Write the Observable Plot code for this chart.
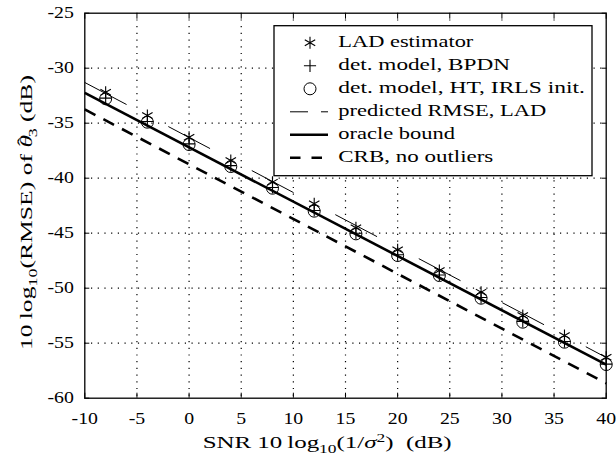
<!DOCTYPE html>
<html>
<head>
<meta charset="utf-8">
<script src="https://cdn.jsdelivr.net/npm/d3@7"></script>
<script src="https://cdn.jsdelivr.net/npm/@observablehq/plot@0.6"></script>
<style>
  html, body { margin: 0; padding: 0; background: white; }
  svg { display: block; }
</style>
</head>
<body>
<script>
// ---- data ----
const snr = [-8, -4, 0, 4, 8, 12, 16, 20, 24, 28, 32, 36, 40];
const ladRmse  = [-32.18, -34.30, -36.27, -38.39, -40.36, -42.33, -44.51, -46.51, -48.39, -50.36, -52.48, -54.30, -56.27];
const bpdnRmse = [-32.72, -34.84, -36.88, -38.86, -40.84, -42.94, -45.00, -46.96, -48.80, -50.85, -53.02, -54.85, -56.90];
const htRmse   = [-32.78, -34.91, -36.94, -38.94, -40.91, -43.00, -45.06, -47.03, -48.85, -50.91, -53.09, -54.91, -56.94];
const lineSnr       = [-10, 40];
const predictedRmse = [-31.3, -56.3];
const oracleBound   = [-32.25, -56.95];
const crbNoOutliers = [-33.75, -58.65];
const xTicks = [-10, -5, 0, 5, 10, 15, 20, 25, 30, 35, 40];
const yTicks = [-60, -55, -50, -45, -40, -35, -30, -25];
const legendLabels = [
  "LAD estimator",
  "det. model, BPDN",
  "det. model, HT, IRLS init.",
  "predicted RMSE, LAD",
  "oracle bound",
  "CRB, no outliers"
];

const points = snr.map((s, i) => ({snr: s, lad: ladRmse[i], bpdn: bpdnRmse[i], ht: htRmse[i]}));
const lines = lineSnr.map((s, i) => ({snr: s, pred: predictedRmse[i], oracle: oracleBound[i], crb: crbNoOutliers[i]}));

const FONT = "Liberation Serif";
const FS = 16.5;
const fmt = d => String(d);
const blank = () => "";

const svg = Plot.plot({
  width: 616,
  height: 457,
  marginLeft: 84.3,
  marginRight: 10.3,
  marginTop: 12.7,
  marginBottom: 59.3,
  style: {fontFamily: FONT, fontSize: FS + "px", color: "black", background: "white"},
  x: {domain: [-10, 40]},
  y: {domain: [-60, -25]},
  marks: [
    Plot.gridX({ticks: xTicks.slice(1, -1), stroke: "black", strokeOpacity: 1, strokeWidth: 1.2, strokeDasharray: "1.2,5.5"}),
    Plot.gridY({ticks: yTicks.slice(1, -1), stroke: "black", strokeOpacity: 1, strokeWidth: 1.2, strokeDasharray: "1.2,5.5"}),
    Plot.line(lines, {x: "snr", y: "crb", stroke: "black", strokeWidth: 2.6, strokeDasharray: "12,9", strokeLinecap: "butt"}),
    Plot.line(lines, {x: "snr", y: "oracle", stroke: "black", strokeWidth: 2.6, strokeLinecap: "butt"}),
    Plot.line(lines, {x: "snr", y: "pred", stroke: "black", strokeWidth: 1, strokeDasharray: "47.2,47.2", strokeLinecap: "butt"}),
    Plot.dot(points, {x: "snr", y: "ht", symbol: "circle", r: 6, stroke: "black", fill: "none", strokeWidth: 1}),
    Plot.dot(points, {x: "snr", y: "bpdn", symbol: "plus", r: 4, stroke: "black", strokeWidth: 1.1}),
    Plot.dot(points, {x: "snr", y: "lad", symbol: "asterisk", r: 5.7, stroke: "black", strokeWidth: 1.1}),
    // tick labels
    Plot.axisX({ticks: xTicks, tickSize: 0, tickPadding: 14, tickFormat: fmt, label: null}),
    Plot.axisY({ticks: yTicks, tickSize: 0, tickPadding: 11, tickFormat: fmt, label: null}),
    // inward ticks on all four sides
    Plot.axisX({ticks: xTicks, anchor: "bottom", tickSize: 5, dy: -5, tickFormat: blank, label: null, strokeWidth: 1}),
    Plot.axisX({ticks: xTicks, anchor: "top", tickSize: 5, dy: 5, tickFormat: blank, label: null, strokeWidth: 1}),
    Plot.axisY({ticks: yTicks, anchor: "left", tickSize: 5, dx: 5, tickFormat: blank, label: null, strokeWidth: 1}),
    Plot.axisY({ticks: yTicks, anchor: "right", tickSize: 5, dx: -5, tickFormat: blank, label: null, strokeWidth: 1}),
    Plot.frame({stroke: "black", strokeWidth: 1.3})
  ]
});
document.body.append(svg);

const root = d3.select(svg);

// widen tick labels a little (Computer Modern is wider than Times)
root.selectAll('g[aria-label="x-axis tick label"] text, g[aria-label="y-axis tick label"] text').each(function() {
  const w = this.getComputedTextLength();
  if (w > 0) {
    this.setAttribute("textLength", w * 1.2);
    this.setAttribute("lengthAdjust", "spacingAndGlyphs");
  }
});

// ---- axis titles ----
const xt = root.append("text")
  .attr("x", 202.7).attr("y", 448.3).attr("text-anchor", "start")
  .attr("font-family", FONT).attr("font-size", FS).attr("fill", "black");
xt.append("tspan").text("SNR 10\u2009log");
xt.append("tspan").attr("font-size", FS * 0.7).attr("dy", 4.5).text("10");
xt.append("tspan").attr("dy", -4.5).text("(1/");
xt.append("tspan").attr("font-style", "italic").text("σ");
xt.append("tspan").attr("font-size", FS * 0.7).attr("dy", -6.5).text("2");
xt.append("tspan").attr("dy", 6.5).text(")\u2002(dB)");
xt.attr("textLength", 249).attr("lengthAdjust", "spacingAndGlyphs");

const yt = root.append("text")
  .attr("transform", "translate(32.3,350) rotate(-90)").attr("text-anchor", "start")
  .attr("font-family", FONT).attr("font-size", FS).attr("fill", "black");
yt.append("tspan").text("10\u2009log");
yt.append("tspan").attr("font-size", FS * 0.7).attr("dy", 4.5).text("10");
yt.append("tspan").attr("dy", -4.5).text("(RMSE) of ");
yt.append("tspan").attr("font-style", "italic").text("θ");
yt.append("tspan").attr("dx", -7).attr("dy", -3.5).text("\u02C6");
yt.append("tspan").attr("font-size", FS * 0.7).attr("dx", 0).attr("dy", 8).text("3");
yt.append("tspan").attr("dy", -4.5).text(" (dB)");
yt.attr("textLength", 275).attr("lengthAdjust", "spacingAndGlyphs");

// ---- legend ----
const lg = root.append("g").attr("text-anchor", "start");
lg.append("rect")
  .attr("x", 274).attr("y", 25.7).attr("width", 318).attr("height", 150)
  .attr("fill", "white").attr("stroke", "black").attr("stroke-width", 1.3);
const rowY = i => 42.8 + 23 * i;
const textWidths = [135, 171.7, 246.7, 208, 116.7, 155];
const sym = (type, r) => d3.symbol(type, Math.PI * r * r)();
lg.append("path").attr("transform", `translate(310,${rowY(0)})`).attr("d", sym(d3.symbolAsterisk, 5.7))
  .attr("fill", "none").attr("stroke", "black").attr("stroke-width", 1.1);
lg.append("path").attr("transform", `translate(310,${rowY(1)})`).attr("d", sym(d3.symbolPlus, 4))
  .attr("fill", "none").attr("stroke", "black").attr("stroke-width", 1.1);
lg.append("path").attr("transform", `translate(310,${rowY(2)})`).attr("d", sym(d3.symbolCircle, 6))
  .attr("fill", "none").attr("stroke", "black").attr("stroke-width", 1);
lg.append("line").attr("x1", 290).attr("x2", 328).attr("y1", rowY(3)).attr("y2", rowY(3))
  .attr("stroke", "black").attr("stroke-width", 1).attr("stroke-dasharray", "18,13");
lg.append("line").attr("x1", 290).attr("x2", 328).attr("y1", rowY(4)).attr("y2", rowY(4))
  .attr("stroke", "black").attr("stroke-width", 2.6);
lg.append("line").attr("x1", 290).attr("x2", 328).attr("y1", rowY(5)).attr("y2", rowY(5))
  .attr("stroke", "black").attr("stroke-width", 2.6).attr("stroke-dasharray", "10.5,11");
legendLabels.forEach((label, i) => {
  lg.append("text")
    .attr("x", 338.3).attr("y", rowY(i) + 4.5).attr("text-anchor", "start")
    .attr("font-family", FONT).attr("font-size", FS).attr("fill", "black")
    .attr("textLength", textWidths[i]).attr("lengthAdjust", "spacingAndGlyphs")
    .text(label);
});
</script>
</body>
</html>
